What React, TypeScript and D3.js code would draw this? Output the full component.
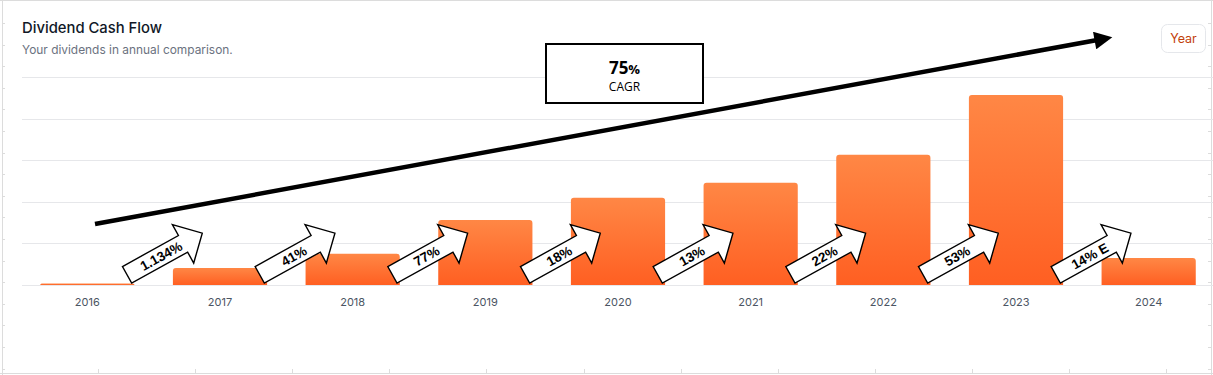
import React from "react";
import * as d3 from "d3";

const years = ["2016", "2017", "2018", "2019", "2020", "2021", "2022", "2023", "2024"];
const dividends = [0.036, 0.41, 0.75, 1.56, 2.1, 2.46, 3.13, 4.57, 0.65];
const gridTicks = [0, 1, 2, 3, 4, 5];
const growthLabels = ["1.134%", "41%", "77%", "18%", "13%", "22%", "53%", "14% E"];
const cagrValue = "75";
const cagrLabel = "CAGR";

const W = 1213;
const H = 375;

export default function App() {
  const x = d3.scaleBand<string>().domain(years).range([21, 1215]).paddingInner(0.29).paddingOuter(0.145);
  const y = d3.scaleLinear().domain([0, 5]).range([285, 77]);
  const bw = x.bandwidth();
  const step = x.step();

  // block arrow geometry
  const L = 86, bh = 19, hw = 44, hl = 22;
  const arrowPath = `M0,${-bh / 2} L${L - hl},${-bh / 2} L${L - hl},${-hw / 2} L${L},0 L${L - hl},${hw / 2} L${L - hl},${bh / 2} L0,${bh / 2} Z`;

  const rulerBottom = d3.range(98, W, 97.1);
  const rulerSide = d3.range(23, H - 5, 21.6);

  return (
    <svg width={W} height={H} style={{ position: "absolute", left: 0, top: 0, background: "#fff" }} fontFamily="Inter, 'Noto Sans', sans-serif">
      <defs>
        <linearGradient id="barGrad" x1="0" y1="0" x2="0" y2="1">
          <stop offset="0%" stopColor="#ff8745" />
          <stop offset="100%" stopColor="#ff5f22" />
        </linearGradient>
        <marker id="bigHead" viewBox="0 0 10 10" refX="7" refY="5" markerWidth="4.2" markerHeight="4" orient="auto" markerUnits="strokeWidth">
          <path d="M0,0 L10,5 L0,10 Z" fill="#000" />
        </marker>
      </defs>

      {/* screenshot frame / ruler */}
      <g stroke="#dcdcdc" strokeWidth={1} fill="none">
        <line x1={0} x2={W} y1={0.5} y2={0.5} />
        <line x1={2.5} x2={2.5} y1={0} y2={H} />
        <line x1={0} x2={W} y1={373.5} y2={373.5} />
        <line x1={1211.5} x2={1211.5} y1={0} y2={H} />
        {rulerBottom.map((t, i) => (
          <line key={"rb" + i} x1={Math.round(t) + 0.5} x2={Math.round(t) + 0.5} y1={369} y2={373} />
        ))}
        {rulerSide.map((t, i) => (
          <line key={"rs" + i} x1={1208} x2={1211} y1={Math.round(t) + 0.5} y2={Math.round(t) + 0.5} />
        ))}
        {rulerSide.map((t, i) => (
          <line key={"rl" + i} x1={2.5} x2={5} y1={Math.round(t) + 0.5} y2={Math.round(t) + 0.5} />
        ))}
      </g>

      {/* header */}
      <text x={22} y={33} fontSize={14.8} fontWeight={500} fill="#111827">Dividend Cash Flow</text>
      <text x={22} y={54} fontSize={11.9} fill="#6b7280">Your dividends in annual comparison.</text>

      <rect x={1161.5} y={24.5} width={44} height={28} rx={6} fill="#fff" stroke="#e5e7eb" />
      <text x={1183.5} y={43} fontSize={12.5} textAnchor="middle" fill="#c2410c">Year</text>

      {/* grid */}
      <g stroke="#e6e7ea" strokeWidth={1}>
        {gridTicks.map((t) => (
          <line key={t} x1={22} x2={W} y1={Math.round(y(t)) + 0.5} y2={Math.round(y(t)) + 0.5} />
        ))}
      </g>

      {/* bars */}
      {years.map((yr, i) => {
        const x0 = x(yr)!;
        const y0 = y(dividends[i]);
        const h = y(0) - y0;
        const r = Math.min(3, h);
        const d = `M${x0},${y(0)} L${x0},${y0 + r} Q${x0},${y0} ${x0 + r},${y0} L${x0 + bw - r},${y0} Q${x0 + bw},${y0} ${x0 + bw},${y0 + r} L${x0 + bw},${y(0)} Z`;
        return <path key={yr} d={d} fill="url(#barGrad)" />;
      })}

      {/* x labels */}
      {years.map((yr) => (
        <text key={yr} x={x(yr)! + bw / 2} y={306} fontSize={11} textAnchor="middle" fill="#4b5563">{yr}</text>
      ))}

      {/* big trend arrow */}
      <line x1={95} y1={224} x2={1107} y2={38.2} stroke="#000" strokeWidth={4.5} markerEnd="url(#bigHead)" />

      {/* CAGR box */}
      <rect x={546} y={44} width={157} height={59} fill="#fff" stroke="#000" strokeWidth={2} />
      <text x={624.5} y={74} textAnchor="middle" fontFamily="'Open Sans', 'Liberation Sans', sans-serif" fontWeight={700} fill="#000">
        <tspan fontSize={17}>{cagrValue}</tspan>
        <tspan fontSize={13}>%</tspan>
      </text>
      <text x={624.5} y={91} textAnchor="middle" fontFamily="'Open Sans', 'Liberation Sans', sans-serif" fontSize={12} fill="#000">{cagrLabel}</text>

      {/* growth block arrows */}
      {growthLabels.map((lab, i) => {
        const gapCenter = x(years[i])! + bw + (step - bw) / 2;
        const cx = gapCenter + 11;
        const cy = 254;
        return (
          <g key={lab} transform={`translate(${cx},${cy}) rotate(-29)`}>
            <path d={arrowPath} transform={`translate(${-L / 2},0)`} fill="#fff" stroke="#000" strokeWidth={1.4} strokeLinejoin="miter" />
            <text x={-4} y={0} dy="0.36em" textAnchor="middle" fontFamily="'Liberation Sans', Arial, sans-serif" fontWeight={700} fontSize={13.5} fill="#000">{lab}</text>
          </g>
        );
      })}
    </svg>
  );
}
